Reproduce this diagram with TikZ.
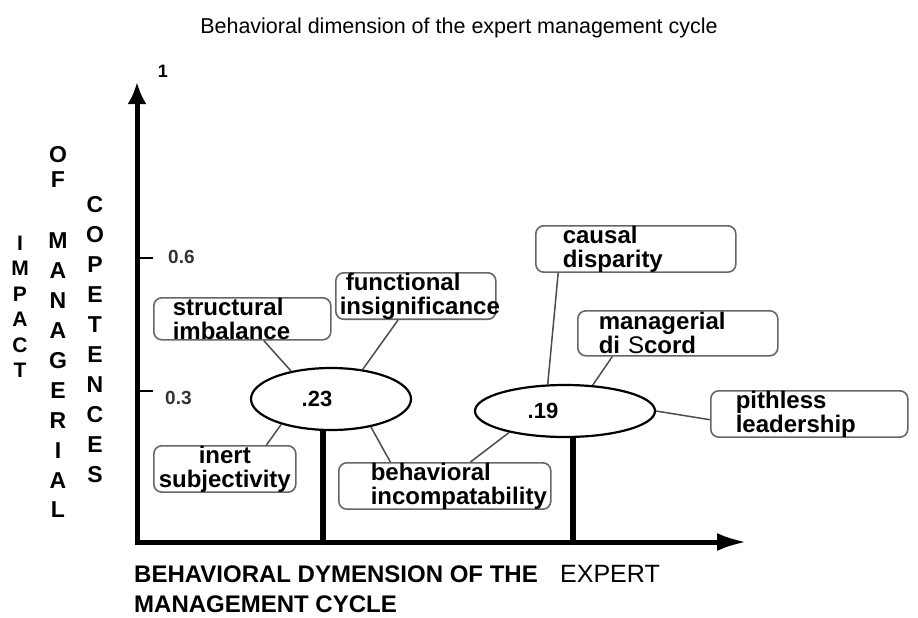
\documentclass[tikz,border=0pt]{standalone}
\usepackage{fontspec}
\setmainfont{Liberation Sans}
\usetikzlibrary{shapes.geometric,arrows.meta,calc}

\begin{document}
\begin{tikzpicture}[x=1pt,y=-1pt,
  every node/.style={inner sep=0pt},
  ax/.style={line width=5pt, line join=miter},
  tickmark/.style={line width=2pt},
  ticklbl/.style={font=\fontsize{19}{19}\selectfont\bfseries, text=black!80, anchor=west},
  boxn/.style={draw=black!60, line width=1.6pt, rounded corners=8pt, anchor=north west,
    font=\fontsize{24}{24}\selectfont\bfseries, inner ysep=0pt},
  oval/.style={ellipse, draw, fill=white, line width=2.2pt, font=\fontsize{22}{22}\selectfont\bfseries, inner sep=0pt},
  link/.style={draw=black!70, line width=1.5pt},
  bar/.style={line width=6pt},
  vlet/.style={font=\fontsize{23}{#1}\selectfont\bfseries, align=center},
  axlbl/.style={anchor=west, font=\fontsize{24}{24}\selectfont\bfseries},
]
\useasboundingbox (0,0) rectangle (918,618);

% title
\node[font=\fontsize{21.5}{21.5}\selectfont] (title) at (459,28)
  {Behavioral dimension of the expert management cycle};

% axes
\coordinate (O) at (137,542);
\coordinate (ytip) at (137,82);
\coordinate (xtip) at (747,542);
\draw[ax, {Latex[length=22pt,width=19pt]}-{Latex[length=30pt,width=18pt]}] (ytip) -- (O) -- (xtip);

% ticks on the vertical axis
\coordinate (t6) at (137,258);
\coordinate (t3) at (137,391);
\draw[tickmark] (t6) -- ++(16,0);
\draw[tickmark] (t3) -- ++(16,0);
\node[ticklbl] (l6) at (168,257) {0.6};
\node[ticklbl] (l3) at (165,398) {0.3};
\node[font=\fontsize{18}{18}\selectfont\bfseries] (l1) at (163,71) {1};

% vertical axis title, one letter per line
\node[vlet=25.5, font=\fontsize{21}{25.5}\selectfont\bfseries] (impact) at (20,307) {I\\M\\P\\A\\C\\T};
\node[vlet=25] (of) at (58,166.5) {O\\F};
\node[vlet=29.9] (manag) at (58,375.5) {M\\A\\N\\A\\G\\E\\R\\I\\A\\L};
\node[vlet=30] (compet) at (95,340) {C\\O\\P\\E\\T\\E\\N\\C\\E\\S};

% horizontal axis title
\node[axlbl] (xl1) at (134,574) {BEHAVIORAL DYMENSION OF THE};
\node[anchor=west, font=\fontsize{25}{25}\selectfont] (xl2) at (560,574) {EXPERT};
\node[axlbl] (xl3) at (134,604) {MANAGEMENT CYCLE};

% bars from the axis up to the two indices
\coordinate (b1) at (323,542);
\coordinate (b2) at (573,542);

% the two indices
\node[oval, minimum width=160pt, minimum height=62pt] (e23) at (331,399) {\hspace*{-28pt}.23};
\node[oval, minimum width=180pt, minimum height=52pt] (e19) at (565,411) {\hspace*{-44pt}.19};

\draw[bar] (e23.south -| b1) -- (b1);
\draw[bar] (e19.south -| b2) -- (b2);

% factor boxes
\node[boxn, minimum height=42pt, text width=139pt, inner xsep=19pt, align=left] (sb) at (153,297)
  {structural\\imbalance};
\node[boxn, minimum height=46pt, text width=152pt, inner xsep=4pt, align=left] (fb) at (335,272)
  {\hspace*{6pt}functional\\\mbox{insignificance}};
\node[boxn, minimum height=38pt, text width=146pt, inner xsep=27pt, align=left] (cb) at (535,225)
  {causal\\disparity};
\node[boxn, minimum height=45pt, text width=158pt, inner xsep=21pt, align=left] (mb) at (577,310)
  {managerial\\di {\mdseries S}cord};
\node[boxn, minimum height=45pt, text width=147pt, inner xsep=25pt, align=left] (pb) at (710,390)
  {pithless\\leadership};
\node[boxn, minimum height=43pt, text width=136pt, inner xsep=3pt, align=center] (ib) at (153,445)
  {inert\\\mbox{subjectivity}};
\node[boxn, minimum height=41pt, text width=204pt, inner xsep=4pt, align=left] (bb) at (338,462)
  {\hspace*{28pt}behavioral\\\hspace*{28pt}\mbox{incompatability}};

% links between boxes and indices
\draw[link] ($(sb.south west)!0.62!(sb.south east)$) -- (e23.145);
\draw[link] ($(fb.south west)!0.39!(fb.south east)$) -- (e23.43);
\draw[link] ($(ib.north west)!0.79!(ib.north east)$) -- (e23.207);
\draw[link] ($(bb.north west)!0.245!(bb.north east)$) -- (e23.325);
\draw[link] ($(bb.north west)!0.62!(bb.north east)$) -- (e19.201);
\draw[link] ($(cb.south west)!0.115!(cb.south east)$) -- (e19.123);
\draw[link] ($(mb.south west)!0.175!(mb.south east)$) -- (e19.43);
\draw[link] (e19.east) -- ($(pb.south west)!0.38!(pb.north west)$);
\end{tikzpicture}
\end{document}
